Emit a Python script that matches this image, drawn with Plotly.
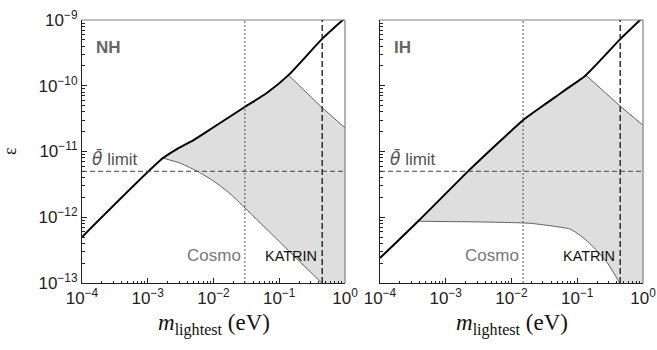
import math
import plotly.graph_objects as go

# ---------------- data ----------------
# Normal hierarchy (NH)
nh_upper_m   = [1e-4, 1.70e-3, 2.82e-3, 4.9e-3, 1.0e-2, 3.02e-2, 6.46e-2, 1.38e-1, 4.57e-1, 1.0]
nh_upper_eps = [5.0e-13, 7.94e-12, 1.10e-11, 1.48e-11, 2.34e-11, 4.79e-11, 7.76e-11, 1.45e-10, 5.25e-10, 1.07e-9]
nh_edge_m    = [1.38e-1, 4.57e-1, 1.0]
nh_edge_eps  = [1.45e-10, 4.57e-11, 2.29e-11]
nh_lower_m   = [1.70e-3, 3.16e-3, 5.89e-3, 1.0e-2, 1.78e-2, 3.02e-2, 1.0e-1, 4.42e-1, 1.0]
nh_lower_eps = [7.94e-12, 6.61e-12, 4.90e-12, 3.55e-12, 2.29e-12, 1.38e-12, 4.27e-13, 1.0e-13, 4.47e-14]

# Inverted hierarchy (IH)
ih_upper_m   = [1e-4, 3.80e-4, 2.14e-3, 6.92e-3, 1.51e-2, 3.47e-2, 7.08e-2, 1.35e-1, 4.62e-1, 1.0]
ih_upper_eps = [2.40e-13, 8.71e-13, 4.90e-12, 1.48e-11, 3.02e-11, 5.50e-11, 9.1e-11, 1.45e-10, 5.25e-10, 1.10e-9]
ih_edge_m    = [1.35e-1, 4.62e-1, 1.0]
ih_edge_eps  = [1.45e-10, 4.79e-11, 2.51e-11]
ih_lower_m   = [3.80e-4, 1.0e-3, 3.0e-3, 1.0e-2, 1.9e-2, 4.0e-2, 7.8e-2, 1.12e-1, 1.55e-1, 2.8e-1, 4.4e-1, 1.0]
ih_lower_eps = [8.71e-13, 8.6e-13, 8.5e-13, 8.3e-13, 8.1e-13, 7.4e-13, 6.6e-13, 5.25e-13, 4.0e-13, 2.1e-13, 1.0e-13, 1.9e-14]

# limits
theta_limit = 5e-12
cosmo_limit = [3.0e-2, 1.5e-2]     # NH, IH
katrin_limit = 0.45
panel_labels = ["NH", "IH"]

# ticks
x_tickvals = [1e-4, 1e-3, 1e-2, 1e-1, 1e0]
x_ticktext = ["10<sup>−4</sup>", "10<sup>−3</sup>", "10<sup>−2</sup>", "10<sup>−1</sup>", "10<sup>0</sup>"]
y_tickvals = [1e-13, 1e-12, 1e-11, 1e-10, 1e-9]
y_ticktext = ["10<sup>−13</sup>", "10<sup>−12</sup>", "10<sup>−11</sup>", "10<sup>−10</sup>", "10<sup>−9</sup>"]

# ---------------- figure ----------------
W, H = 657, 350
fig = go.Figure()

panels = [
    (nh_upper_m, nh_upper_eps, nh_edge_m, nh_edge_eps, nh_lower_m, nh_lower_eps),
    (ih_upper_m, ih_upper_eps, ih_edge_m, ih_edge_eps, ih_lower_m, ih_lower_eps),
]

FILL = "#dedede"
GRAY = "#606060"

for i, (um, ue, em, ee, lm, le) in enumerate(panels):
    xa = "x" if i == 0 else "x2"
    ya = "y" if i == 0 else "y2"
    ki = um.index(lm[0])
    ei = um.index(em[0])
    poly_x = um[ki:ei + 1] + em[1:] + lm[::-1]
    poly_y = ue[ki:ei + 1] + ee[1:] + le[::-1]
    fig.add_trace(go.Scatter(x=poly_x, y=poly_y, mode="lines", fill="toself",
                             fillcolor=FILL, line=dict(width=0), hoverinfo="skip",
                             showlegend=False, xaxis=xa, yaxis=ya))
    fig.add_trace(go.Scatter(x=em, y=ee, mode="lines", line=dict(color=GRAY, width=1),
                             showlegend=False, xaxis=xa, yaxis=ya))
    fig.add_trace(go.Scatter(x=lm, y=le, mode="lines",
                             line=dict(color=GRAY, width=1, shape="spline", smoothing=0.6),
                             showlegend=False, xaxis=xa, yaxis=ya))
    fig.add_trace(go.Scatter(x=um, y=ue, mode="lines",
                             line=dict(color="black", width=2, shape="spline", smoothing=0.6),
                             showlegend=False, xaxis=xa, yaxis=ya))

def fx(px):
    return px / W

def fy(py):
    return 1 - py / H

xdoms = [[fx(82), fx(345)], [fx(380), fx(643)]]
ydom = [fy(283), fy(20)]

minor_x = [k * 10 ** e for e in range(-4, 0) for k in range(2, 10)]
minor_y = [k * 10 ** e for e in range(-13, -9) for k in range(2, 10)]

tickfont = dict(family="Liberation Sans, Arial, sans-serif", size=17, color="#222")
axcommon = dict(type="log", showgrid=False, zeroline=False, showline=True, linecolor="#222",
                linewidth=1, ticks="inside", ticklen=5, tickwidth=1, tickcolor="#222",
                tickfont=tickfont, automargin=False)
minor_style = dict(ticks="inside", ticklen=2.5, tickcolor="#222", showgrid=False)

fig.update_layout(
    width=W, height=H, margin=dict(l=0, r=0, t=0, b=0),
    plot_bgcolor="white", paper_bgcolor="white", showlegend=False,
    xaxis=dict(domain=xdoms[0], range=[-4, 0], anchor="y", tickmode="array",
               tickvals=x_tickvals, ticktext=x_ticktext,
               minor=dict(tickmode="array", tickvals=minor_x, **minor_style), **axcommon),
    yaxis=dict(domain=ydom, range=[-13, -9], anchor="x", tickmode="array",
               tickvals=y_tickvals, ticktext=y_ticktext,
               minor=dict(tickmode="array", tickvals=minor_y, **minor_style), **axcommon),
    xaxis2=dict(domain=xdoms[1], range=[-4, 0], anchor="y2", tickmode="array",
                tickvals=x_tickvals, ticktext=x_ticktext,
                minor=dict(tickmode="array", tickvals=minor_x, **minor_style), **axcommon),
    yaxis2=dict(domain=ydom, range=[-13, -9], anchor="x2", tickmode="array",
                tickvals=y_tickvals, ticktext=y_ticktext, showticklabels=False,
                minor=dict(tickmode="array", tickvals=minor_y, **minor_style), **axcommon),
)

SANS = "Liberation Sans, Arial, sans-serif"
SERIF = "Liberation Serif, Times New Roman, serif"

shapes = []
annotations = []
for i in range(2):
    xa = "x" if i == 0 else "x2"
    ya = "y" if i == 0 else "y2"
    shapes.append(dict(type="line", xref=f"{xa} domain", yref=f"{ya} domain", x0=0, x1=1, y0=1, y1=1,
                       line=dict(color="#808080", width=1.2)))
    shapes.append(dict(type="line", xref=f"{xa} domain", yref=f"{ya} domain", x0=1, x1=1, y0=0, y1=1,
                       line=dict(color="#808080", width=1.2)))
    shapes.append(dict(type="line", xref=f"{xa} domain", yref=ya, x0=0, x1=1,
                       y0=theta_limit, y1=theta_limit,
                       line=dict(color="#444", width=1, dash="5px,3px")))
    shapes.append(dict(type="line", xref=xa, yref=f"{ya} domain", x0=cosmo_limit[i], x1=cosmo_limit[i],
                       y0=0, y1=1, line=dict(color="#555", width=1, dash="2px,2px")))
    shapes.append(dict(type="line", xref=xa, yref=f"{ya} domain", x0=katrin_limit, x1=katrin_limit,
                       y0=0, y1=1, line=dict(color="#222", width=1.4, dash="6px,3px")))

    annotations.append(dict(xref=f"{xa} domain", yref=f"{ya} domain", x=0.046, y=0.895,
                            xanchor="left", yanchor="middle", showarrow=False,
                            text=f"<b>{panel_labels[i]}</b>",
                            font=dict(family=SANS, size=17, color="#666")))
    annotations.append(dict(xref=f"{xa} domain", yref=ya, x=0.03, y=math.log10(theta_limit),
                            xanchor="left", yanchor="bottom", yshift=0, showarrow=False,
                            text="<span style='font-family:DejaVu Sans'><i>θ̄</i></span> limit",
                            font=dict(family=SANS, size=17, color="#555")))
    annotations.append(dict(xref=xa, yref=f"{ya} domain", x=math.log10(cosmo_limit[i]), y=0.103,
                            xanchor="right", yanchor="middle", xshift=-2, showarrow=False,
                            text="Cosmo",
                            font=dict(family=SANS, size=17, color="#777")))
    annotations.append(dict(xref=xa, yref=f"{ya} domain", x=math.log10(katrin_limit), y=0.103,
                            xanchor="right", yanchor="middle", xshift=-3, showarrow=False,
                            text="KATRIN",
                            font=dict(family=SANS, size=14.5, color="#111")))
    annotations.append(dict(xref=f"{xa} domain", yref="paper", x=0.5, y=fy(324),
                            xanchor="center", yanchor="middle", showarrow=False,
                            text="<i>m</i><sub>lightest</sub> (eV)",
                            font=dict(family=SERIF, size=23, color="#111")))

annotations.append(dict(xref="paper", yref="paper", x=fx(10), y=fy(151), xanchor="center", yanchor="middle",
                        showarrow=False, text="ε", textangle=-90,
                        font=dict(family=SERIF, size=18, color="#111")))

fig.update_layout(shapes=shapes, annotations=annotations)
fig.write_html("out.html", config={"displayModeBar": False},
               post_script="document.body.style.margin='0';")
